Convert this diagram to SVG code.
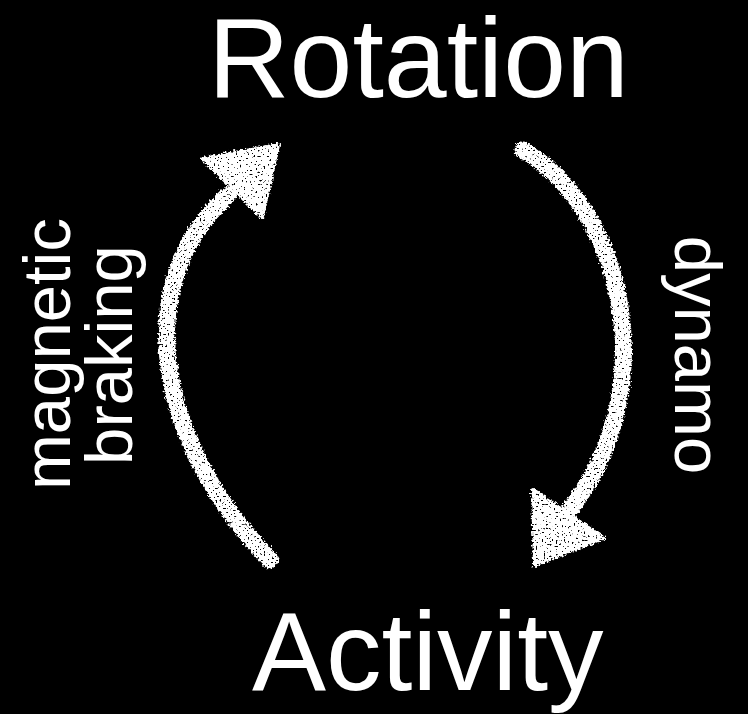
<svg xmlns="http://www.w3.org/2000/svg" width="748" height="714" viewBox="0 0 748 714">
<style>
.big{font-family:"Liberation Sans",Arial,sans-serif;fill:#fff}
.lab{font-family:"Liberation Sans",Arial,sans-serif;font-size:67px;fill:#fff;text-anchor:middle}
.shaft{fill:none;stroke:#fff;stroke-width:17;stroke-linecap:round}
.head{fill:#fff;stroke:#fff;stroke-width:4;stroke-linejoin:round}
</style>
<defs>
<filter id="chalk" x="-20%" y="-20%" width="140%" height="140%">
<feTurbulence type="fractalNoise" baseFrequency="0.45" numOctaves="2" seed="3" result="n"/>
<feDisplacementMap in="SourceGraphic" in2="n" scale="6" xChannelSelector="R" yChannelSelector="G" result="d"/>
<feTurbulence type="fractalNoise" baseFrequency="0.5" numOctaves="2" seed="11" result="n2"/>
<feColorMatrix in="n2" type="matrix" values="0 0 0 0 0 0 0 0 0 0 0 0 0 0 0 16 0 0 0 -4.6" result="holes"/>
<feComposite in="d" in2="holes" operator="in"/>
</filter>
</defs>
<rect width="748" height="714" fill="#000"/>
<g id="rotation">
<text class="big" x="208" y="97" font-size="113">Rotation</text>
</g>
<g id="activity">
<text class="big" x="252" y="690" font-size="111">Activity</text>
</g>
<g id="connectors" filter="url(#chalk)">
<g id="edge-braking">
<path class="shaft" d="M270 560 C163 450 123 290 228 195"/>
<polygon class="head" points="203,159 278,145 262,217"/>
</g>
<g id="edge-dynamo">
<path class="shaft" d="M523 150 C625 210 665 390 568 512"/>
<polygon class="head" points="533,490 603,538 535,565"/>
</g>
</g>
<g id="label-braking">
<text class="lab" transform="translate(70,354) rotate(-90)">magnetic</text>
<text class="lab" transform="translate(132,355) rotate(-90)">braking</text>
</g>
<g id="label-dynamo">
<text class="lab" font-size="67" transform="translate(675,355) rotate(90)">dynamo</text>
</g>
</svg>
